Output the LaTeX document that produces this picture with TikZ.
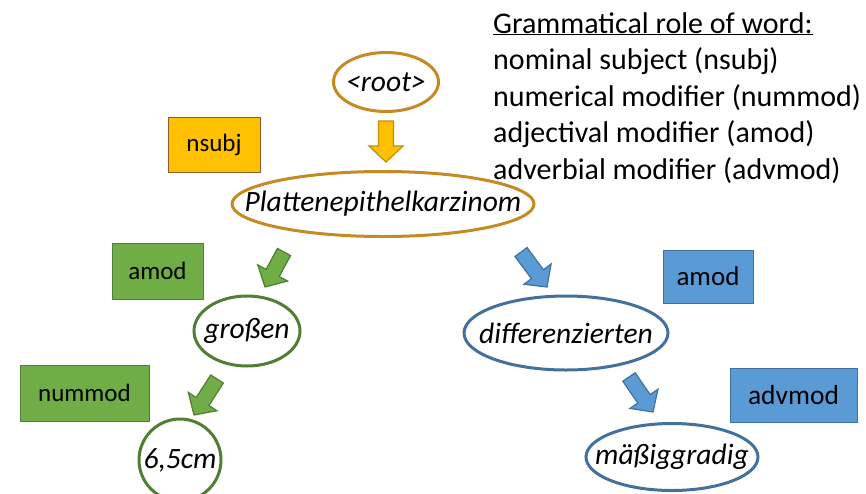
\documentclass[tikz,border=0pt]{standalone}
\usepackage{fontspec}
\setmainfont{Carlito}
\usepackage{tikz}
\usetikzlibrary{shapes.geometric,calc}

\definecolor{goldline}{RGB}{196,138,36}
\definecolor{goldfill}{RGB}{255,192,0}
\definecolor{goldedge}{RGB}{191,144,0}
\definecolor{brownedge}{RGB}{150,90,40}
\definecolor{leaf}{RGB}{112,173,71}
\definecolor{leafedge}{RGB}{80,126,50}
\definecolor{sky}{RGB}{91,155,213}
\definecolor{skyedge}{RGB}{65,113,156}

% text of zero width, so the ellipse keeps its given size
\newcommand{\inword}[1]{\makebox[0pt]{#1}}

% block arrow: #1 from, #2 to, #3 style
\newcommand{\fatarrow}[3]{%
  \coordinate (fa-h) at ($(#2)!16pt!(#1)$);
  \draw[#3] ($(#1)!7.5pt!90:(#2)$) -- ($(fa-h)!7.5pt!-90:(#1)$)
    -- ($(fa-h)!17pt!-90:(#1)$) -- (#2)
    -- ($(fa-h)!17pt!90:(#1)$) -- ($(fa-h)!7.5pt!90:(#1)$)
    -- ($(#1)!7.5pt!-90:(#2)$) -- cycle;
}

\begin{document}
\begin{tikzpicture}[x=1pt,y=-1pt,line join=miter]

  \tikzstyle{word}=[ellipse,draw,line width=3pt,inner sep=0pt,fill=white,
                    font=\fontsize{29.5}{34}\selectfont\itshape]
  \tikzstyle{role}=[rectangle,draw,line width=1pt,inner sep=0pt,
                    font=\fontsize{25}{30}\selectfont]

  \useasboundingbox (0,0) rectangle (866,493);

  % legend
  \node[anchor=north west,align=left,inner sep=0pt,
        font=\fontsize{30}{36.5}\selectfont] (LG) at (493,12)
        {\underline{Grammatical role of word:}\\
         nominal subject (nsubj)\\
         numerical modifier (nummod)\\
         adjectival modifier (amod)\\
         adverbial modifier (advmod)};

  % words
  \node[word,draw=goldline,minimum width=105,minimum height=59] (RT) at (386,82)  {\inword{<root>}};
  \node[word,draw=goldline,minimum width=302,minimum height=65] (PK) at (383,204) {\inword{Plattenepithelkarzinom}};
  \node[word,draw=leafedge,minimum width=106,minimum height=70] (GR) at (247,331) {\inword{großen}};
  \node[word,draw=skyedge,minimum width=204,minimum height=74]  (DF) at (566,333) {\inword{differenzierten}};
  \node[word,draw=leafedge,minimum width=82,minimum height=82]  (CM) at (180,460) {\inword{6,5cm}};
  \node[word,draw=skyedge,minimum width=172,minimum height=67]  (MG) at (672,457) {\inword{mäßiggradig}};

  % roles
  \node[role,fill=goldfill,draw=brownedge,minimum width=92,minimum height=55] (NS) at (214,144.5) {nsubj};
  \node[role,fill=leaf,draw=leafedge,minimum width=91,minimum height=56]      (AL) at (157.5,271) {amod};
  \node[role,fill=leaf,draw=leafedge,minimum width=129,minimum height=56]     (NM) at (84.5,393)  {nummod};
  \node[role,fill=sky,draw=skyedge,minimum width=90,minimum height=53,
        font=\fontsize{27}{32}\selectfont]                                   (AR) at (708,276.5) {amod};
  \node[role,fill=sky,draw=skyedge,minimum width=127,minimum height=54,
        font=\fontsize{27.5}{32}\selectfont]                                 (AV) at (793.5,395) {advmod};

  % arrow ends
  \coordinate (o1) at (386,121);   \coordinate (o2) at (386,162);
  \coordinate (g1) at (284,252);   \coordinate (g2) at (265,287);
  \coordinate (g3) at (217,379);   \coordinate (g4) at (194,415);
  \coordinate (b1) at (521,252);   \coordinate (b2) at (547,287);
  \coordinate (b3) at (629,377);   \coordinate (b4) at (653,412);

  \fatarrow{o1}{o2}{fill=goldfill,draw=goldedge,line width=1.2pt}
  \fatarrow{g1}{g2}{fill=leaf,draw=leafedge,line width=1.2pt}
  \fatarrow{g3}{g4}{fill=leaf,draw=leafedge,line width=1.2pt}
  \fatarrow{b1}{b2}{fill=sky,draw=skyedge,line width=1.2pt}
  \fatarrow{b3}{b4}{fill=sky,draw=skyedge,line width=1.2pt}
\end{tikzpicture}
\end{document}
